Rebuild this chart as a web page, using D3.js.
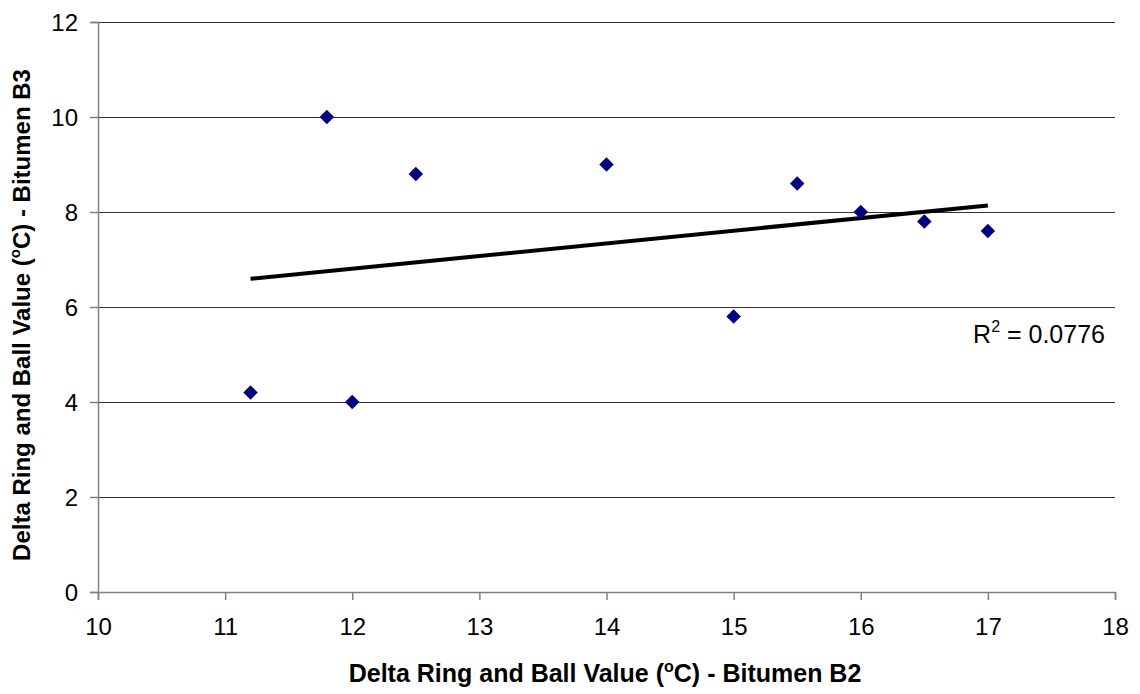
<!DOCTYPE html>
<html>
<head>
<meta charset="utf-8">
<script src="https://cdn.jsdelivr.net/npm/d3@7"></script>
<style>
  body { margin: 0; background: #fff; }
  text { font-family: "Liberation Sans", Arial, sans-serif; }
</style>
</head>
<body>
<div id="chart"></div>
<script>
// B2 vs B3 delta ring-and-ball values
var xValues = [11.2, 11.8, 12, 12.5, 14, 15, 15.5, 16, 16.5, 17]
var yValues = [4.2, 10, 4, 8.8, 9, 5.8, 8.6, 8, 7.8, 7.6]
var xTicks = [10, 11, 12, 13, 14, 15, 16, 17, 18]
var yTicks = [0, 2, 4, 6, 8, 10, 12]

var points = xValues.map((x, i) => ({x: x, y: yValues[i]}))

var W = 1140, H = 694
var margin = {top: 22, right: 25, bottom: 102, left: 98}
var width = W - margin.left - margin.right,
  height = H - margin.top - margin.bottom

var svg = d3.select('#chart')
  .append('svg')
    .attr('width', W)
    .attr('height', H)

var g = svg.append('g')
  .attr('transform', 'translate(' + margin.left + ',' + margin.top + ')')

var x = d3.scaleLinear().domain([10, 18]).range([0, width])
var y = d3.scaleLinear().domain([0, 12]).range([height, 0])

// gridlines
g.selectAll('line.grid')
  .data(yTicks.filter(d => d > 0))
  .enter()
  .append('line')
    .attr('class', 'grid')
    .attr('x1', 0)
    .attr('x2', width)
    .attr('y1', d => Math.round(y(d)) + 0.5)
    .attr('y2', d => Math.round(y(d)) + 0.5)
    .attr('stroke', '#333')
    .attr('stroke-width', 1)

// axes
var xAxis = g.append('g')
  .attr('transform', 'translate(0,' + height + ')')
  .call(d3.axisBottom(x).tickValues(xTicks).tickSize(8).tickPadding(12).tickFormat(d3.format('d')))
var yAxis = g.append('g')
  .call(d3.axisLeft(y).tickValues(yTicks).tickSize(8).tickPadding(12).tickFormat(d3.format('d')))

;[xAxis, yAxis].forEach(a => {
  a.select('.domain').attr('stroke', '#808080').attr('stroke-width', 1.5)
  a.selectAll('.tick line').attr('stroke', '#808080').attr('stroke-width', 1.5)
  a.selectAll('.tick text')
    .attr('fill', '#000')
    .style('font-size', '24px')
    .style('font-family', '"Liberation Sans", Arial, sans-serif')
})
xAxis.selectAll('.tick text').attr('dy', '0.95em')
yAxis.selectAll('.tick text').attr('dy', '0.35em')

// linear trendline (least squares)
var mx = d3.mean(xValues), my = d3.mean(yValues)
var sxy = d3.sum(points, p => (p.x - mx) * (p.y - my))
var sxx = d3.sum(points, p => (p.x - mx) * (p.x - mx))
var syy = d3.sum(points, p => (p.y - my) * (p.y - my))
var slope = sxy / sxx, intercept = my - slope * mx
var r2 = (sxy * sxy) / (sxx * syy)
var xExt = d3.extent(xValues)

g.append('line')
  .attr('x1', x(xExt[0]))
  .attr('y1', y(slope * xExt[0] + intercept))
  .attr('x2', x(xExt[1]))
  .attr('y2', y(slope * xExt[1] + intercept))
  .attr('stroke', '#000')
  .attr('stroke-width', 4)

// diamonds
g.selectAll('path.pt')
  .data(points)
  .enter()
  .append('path')
    .attr('class', 'pt')
    .attr('d', d3.symbol(d3.symbolSquare, 105))
    .attr('transform', d => 'translate(' + x(d.x) + ',' + y(d.y) + ') rotate(45)')
    .attr('fill', '#000080')

// R² label
var rt = g.append('text')
  .attr('x', 1105 - margin.left)
  .attr('y', 343 - margin.top)
  .attr('text-anchor', 'end')
  .style('font-size', '25px')
rt.append('tspan').text('R')
rt.append('tspan').attr('dy', -11).style('font-size', '16px').text('2')
rt.append('tspan').attr('dy', 11).text(' = ' + d3.format('.4f')(r2))

// axis titles
var xt = svg.append('text')
  .attr('x', 605)
  .attr('y', 682)
  .attr('text-anchor', 'middle')
  .style('font-size', '25px')
  .style('font-weight', 'bold')
xt.append('tspan').text('Delta Ring and Ball Value (')
xt.append('tspan').attr('dy', -10).style('font-size', '16px').text('o')
xt.append('tspan').attr('dy', 10).text('C) - Bitumen B2')

var yt = svg.append('text')
  .attr('transform', 'translate(30,315) rotate(-90)')
  .attr('text-anchor', 'middle')
  .style('font-size', '24px')
  .style('font-weight', 'bold')
yt.append('tspan').text('Delta Ring and Ball Value (')
yt.append('tspan').attr('dy', -10).style('font-size', '15px').text('o')
yt.append('tspan').attr('dy', 10).text('C) - Bitumen B3')
</script>
</body>
</html>
